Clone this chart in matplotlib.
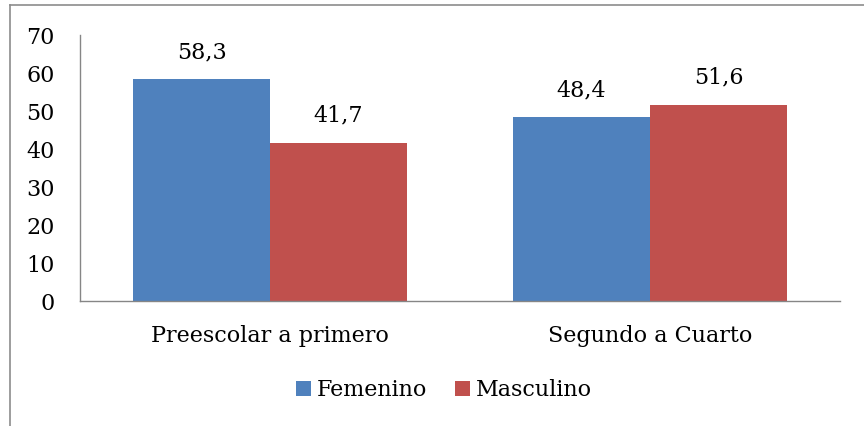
import matplotlib
matplotlib.use("Agg")
import matplotlib.pyplot as plt
from matplotlib.lines import Line2D
import numpy as np

categories = ["Preescolar a primero", "Segundo a Cuarto"]
series_names = ["Femenino", "Masculino"]
femenino = [58.3, 48.4]
masculino = [41.7, 51.6]
yticks = [0, 10, 20, 30, 40, 50, 60, 70]

colors = ["#4F81BD", "#C0504D"]
FONT = "DejaVu Serif"
FS = 16

fig = plt.figure(figsize=(8.64, 4.26), dpi=100)
ax = fig.add_axes([80/864, 1-301/426, 760/864, 266/426])

x = np.arange(len(categories))
w = 0.36
b1 = ax.bar(x - w/2, femenino, w, color=colors[0], label=series_names[0])
b2 = ax.bar(x + w/2, masculino, w, color=colors[1], label=series_names[1])

for bars, vals in ((b1, femenino), (b2, masculino)):
    for r, v in zip(bars, vals):
        ax.annotate(f"{v:.1f}".replace(".", ","), (r.get_x() + r.get_width()/2, v),
                    xytext=(0, 27), textcoords="offset pixels",
                    ha="center", va="center", fontsize=FS, family=FONT)

ax.set_xlim(-0.5, 1.5)
ax.set_ylim(0, 70)
ax.set_yticks(yticks)
ax.set_yticklabels([str(t) for t in yticks], fontsize=FS, family=FONT)
ax.set_xticks(x)
ax.set_xticklabels(categories, fontsize=FS, family=FONT)
ax.tick_params(axis="y", length=0, pad=18)
ax.tick_params(axis="x", length=0, pad=17)
for s in ("top", "right"):
    ax.spines[s].set_visible(False)
for s in ("left", "bottom"):
    ax.spines[s].set_color("#868686")
    ax.spines[s].set_linewidth(1.0)

leg = fig.legend(handles=[b1, b2], labels=series_names, loc="center",
                 bbox_to_anchor=(444/864, 1-390/426), ncol=2, frameon=False,
                 prop={"family": FONT, "size": FS}, handlelength=0.68,
                 handleheight=0.68, handletextpad=0.27, columnspacing=1.26)

fig.add_artist(Line2D([10/864, 1.0], [1-5/426, 1-5/426], transform=fig.transFigure,
                      color="#8C8C8C", linewidth=1.2))
fig.add_artist(Line2D([10/864, 10/864], [1-5/426, 0.0], transform=fig.transFigure,
                      color="#8C8C8C", linewidth=1.2))

fig.savefig("out.png", dpi=100)
